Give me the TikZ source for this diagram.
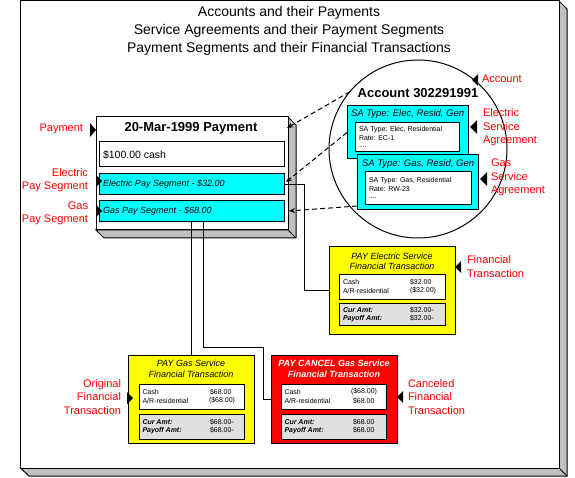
\documentclass[tikz,border=0pt]{standalone}
\usepackage{fontspec}
\setmainfont{Liberation Sans}
\usetikzlibrary{arrows.meta}
\definecolor{cyanbox}{HTML}{00FFFF}
\definecolor{yelbox}{HTML}{FFFF00}
\definecolor{redbox}{HTML}{FF0000}
\definecolor{shadegrey}{HTML}{C0C0C0}
\definecolor{amtgrey}{HTML}{E0E0E0}
\definecolor{lblred}{HTML}{FF0000}
\begin{document}
\begin{tikzpicture}[x=1pt,y=-1pt,
  every node/.style={inner sep=0pt,outer sep=0pt},
  box/.style={draw,line width=1pt,anchor=north west,inner sep=0pt},
  shadowpoly/.style={draw,line width=1pt,fill=shadegrey,line join=miter},
  lbl/.style={text=lblred,font=\fontsize{11}{13.5}\selectfont},
  ttl/.style={font=\fontsize{14}{17}\selectfont},
  bigbold/.style={font=\bfseries\fontsize{13}{15}\selectfont},
  cashtxt/.style={anchor=west,font=\fontsize{10.5}{12}\selectfont},
  segtxt/.style={anchor=west,font=\itshape\fontsize{9}{11}\selectfont},
  satitle/.style={anchor=west,font=\itshape\fontsize{9.5}{11}\selectfont},
  ftrow/.style={anchor=west,font=\fontsize{7}{8}\selectfont},
  ftrowbi/.style={anchor=west,font=\bfseries\itshape\fontsize{7}{8}\selectfont},
  fttitle/.style={align=center,font=\itshape\fontsize{9}{10.5}\selectfont},
  pointer/.style={fill=black},
  conn/.style={line width=1pt},
  dashconn/.style={line width=1pt,dash pattern=on 5pt off 3pt,-{Stealth[length=6pt,width=5pt]}},
]
\useasboundingbox (0,0) rectangle (575,478);

% ---------- outer frame ----------
\draw[shadowpoly] (559,1) -- (567,9) -- (567,476) -- (29,476) -- (20.5,468) -- (559,468) -- cycle;
\draw[conn] (559,468) -- (567,476);
\node[box,fill=white,minimum width=538.5pt,minimum height=467pt] (frame) at (20.5,1) {};

\node[ttl] (t1) at (289,13) {Accounts and their Payments};
\node[ttl] (t2) at (289,31) {Service Agreements and their Payment Segments};
\node[ttl] (t3) at (289,49) {Payment Segments and their Financial Transactions};

% ---------- payment ----------
\draw[shadowpoly] (288,117) -- (296,125) -- (296,238) -- (104,238) -- (96,230) -- (288,230) -- cycle;
\draw[conn] (288,230) -- (296,238);
\node[box,fill=white,minimum width=192pt,minimum height=113pt] (pay) at (96,117) {};
\node[bigbold] (paytitle) at (191,128) {20-Mar-1999 Payment};
\node[box,fill=white,minimum width=185pt,minimum height=25pt] (cash) at (99,142) {};
\node[cashtxt] (cashlbl) at (103,154.5) {\$100.00 cash};
\node[box,fill=cyanbox,minimum width=185pt,minimum height=21pt] (eseg) at (99,174) {};
\node[segtxt] (eseglbl) at (103,184.5) {Electric Pay Segment - \$32.00};
\node[box,fill=cyanbox,minimum width=185pt,minimum height=21pt] (gseg) at (99,201) {};
\node[segtxt] (gseglbl) at (103,211.5) {Gas Pay Segment - \$68.00};

% ---------- account ----------
\node[circle,draw,line width=1pt,minimum size=178pt] (acct) at (418,149) {};
\node[bigbold] (accttitle) at (418,93) {Account 302291991};

\node[box,fill=cyanbox,minimum width=121pt,minimum height=53pt] (sa1) at (347,106) {};
\node[satitle] (sa1t) at (351,114.5) {SA Type: Elec, Resid, Gen};
\node[box,fill=white,minimum width=104pt,minimum height=29pt] (sa1in) at (355,123) {};
\node[ftrow] (sa1r1) at (359,129.5) {SA Type: Elec, Residential};
\node[ftrow] (sa1r2) at (359,138.5) {Rate: EC-1};
\node[ftrow] (sa1r3) at (359,147.5) {....};

\node[box,fill=cyanbox,minimum width=121pt,minimum height=55pt] (sa2) at (357,155) {};
\node[satitle] (sa2t) at (362,164.5) {SA Type: Gas, Resid, Gen};
\node[box,fill=white,minimum width=106pt,minimum height=33pt] (sa2in) at (365,172) {};
\node[ftrow] (sa2r1) at (369,180.5) {SA Type: Gas, Residential};
\node[ftrow] (sa2r2) at (369,189.5) {Rate: RW-23};
\node[ftrow] (sa2r3) at (369,198.5) {....};

% ---------- financial transactions ----------
\node[box,fill=yelbox,minimum width=126pt,minimum height=87pt] (ftE) at (329,247) {};
\node[fttitle] (ftEt) at (392,261.5) {PAY Electric Service\\Financial Transaction};
\node[box,fill=white,minimum width=106pt,minimum height=25pt] (ftEin) at (339,274) {};
\node[box,fill=amtgrey,minimum width=106pt,minimum height=22pt] (ftEam) at (339,303) {};
\node[ftrow] (ftEa1) at (343,282) {Cash};
\node[ftrow] (ftEa2) at (410,282) {\$32.00};
\node[ftrow] (ftEb1) at (343,290.5) {A/R-residential};
\node[ftrow] (ftEb2) at (410,290.5) {(\$32.00)};
\node[ftrowbi] (ftEc1) at (343,310) {Cur Amt:};
\node[ftrow] (ftEc2) at (410,310) {\$32.00-};
\node[ftrowbi] (ftEd1) at (343,318.5) {Payoff Amt:};
\node[ftrow] (ftEd2) at (410,318.5) {\$32.00-};

\node[box,fill=yelbox,minimum width=126pt,minimum height=88pt] (ftG) at (128,355) {};
\node[fttitle] (ftGt) at (191,369) {PAY Gas Service\\Financial Transaction};
\node[box,fill=white,minimum width=105pt,minimum height=25pt] (ftGin) at (139,384) {};
\node[box,fill=amtgrey,minimum width=105pt,minimum height=25pt] (ftGam) at (139,414) {};
\node[ftrow] (ftGa1) at (142.5,392) {Cash};
\node[ftrow] (ftGa2) at (210,392) {\$68.00};
\node[ftrow] (ftGb1) at (142.5,401) {A/R-residential};
\node[ftrow] (ftGb2) at (209,401) {(\$68.00)};
\node[ftrowbi] (ftGc1) at (142.5,422) {Cur Amt:};
\node[ftrow] (ftGc2) at (210,422) {\$68.00-};
\node[ftrowbi] (ftGd1) at (142.5,430.5) {Payoff Amt:};
\node[ftrow] (ftGd2) at (210,430.5) {\$68.00-};

\node[box,fill=redbox,minimum width=126pt,minimum height=88pt] (ftC) at (271,355) {};
\node[fttitle,text=white,font=\bfseries\itshape\fontsize{9}{10.5}\selectfont] (ftCt) at (334,369) {PAY CANCEL Gas Service\\Financial Transaction};
\node[box,fill=white,minimum width=105pt,minimum height=25pt] (ftCin) at (281,384) {};
\node[box,fill=amtgrey,minimum width=105pt,minimum height=25pt] (ftCam) at (281,414) {};
\node[ftrow] (ftCa1) at (284.5,392) {Cash};
\node[ftrow] (ftCa2) at (351,392) {(\$68.00)};
\node[ftrow] (ftCb1) at (284.5,401) {A/R-residential};
\node[ftrow] (ftCb2) at (353,401) {\$68.00};
\node[ftrowbi] (ftCc1) at (284.5,422) {Cur Amt:};
\node[ftrow] (ftCc2) at (353,422) {\$68.00};
\node[ftrowbi] (ftCd1) at (284.5,430.5) {Payoff Amt:};
\node[ftrow] (ftCd2) at (353,430.5) {\$68.00};

% ---------- connectors ----------
\draw[conn] (eseg.east) -- ++(20,0) |- (ftE.west);
\draw[conn] (ftG.north |- gseg.south) -- (ftG.north);
\draw[conn] ([xshift=12pt]gseg.south) -- ++(0,125) -| ([xshift=-8pt]ftC.west) -- (ftC.west);

\coordinate (d1) at (287,128);
\coordinate (d2) at (286,182);
\coordinate (d3) at (289,211);
\draw[dashconn] (acct.140) -- (d1);
\draw[dashconn] (sa1.west) -- (d2);
\draw[dashconn] ([yshift=4pt]sa2.south west) -- (d3);

% ---------- pointers and labels ----------
\fill[pointer] (90,123) -- (96,130) -- (90,137) -- cycle;
\fill[pointer] (96,175) -- (102,181) -- (96,187) -- cycle;
\fill[pointer] (96,205) -- (102,211) -- (96,217) -- cycle;
\fill[pointer] (478,74) -- (472,80) -- (478,86) -- cycle;
\fill[pointer] (477,120) -- (470,127) -- (477,134) -- cycle;
\fill[pointer] (487,172) -- (480,179) -- (487,186) -- cycle;
\fill[pointer] (461,261) -- (455,267) -- (461,273) -- cycle;
\fill[pointer] (127,392) -- (133,398) -- (127,404) -- cycle;
\fill[pointer] (403,391) -- (397,397) -- (403,403) -- cycle;

\node[lbl,anchor=east] (lpay) at (83,129) {Payment};
\node[lbl,anchor=east,align=right,font=\fontsize{11}{13}\selectfont] (leseg) at (88,180) {Electric\\Pay Segment};
\node[lbl,anchor=east,align=right,font=\fontsize{11}{13}\selectfont] (lgseg) at (88,213) {Gas\\Pay Segment};
\node[lbl,anchor=west] (lacct) at (482,79) {Account};
\node[lbl,anchor=west,align=left] (lesa) at (483,127.5) {Electric\\Service\\Agreement};
\node[lbl,anchor=west,align=left] (lgsa) at (491,177.5) {Gas\\Service\\Agreement};
\node[lbl,anchor=west,align=left,font=\fontsize{11}{14}\selectfont] (lft) at (467,267) {Financial\\Transaction};
\node[lbl,anchor=east,align=right] (lorig) at (121,397) {Original\\Financial\\Transaction};
\node[lbl,anchor=west,align=left] (lcanc) at (408,397) {Canceled\\Financial\\Transaction};
\end{tikzpicture}
\end{document}
